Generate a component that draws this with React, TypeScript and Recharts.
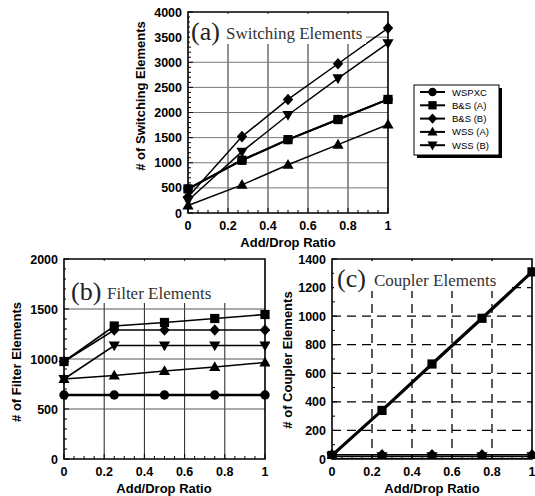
import React from 'react';
import { LineChart, Line, XAxis, YAxis, CartesianGrid, ReferenceArea } from 'recharts';

const SANS = "'Liberation Sans', Arial, Helvetica, sans-serif";
const SERIF = "'Liberation Serif', 'Times New Roman', serif";

// ---- data ----
const ratioSwitch = [0, 0.27, 0.5, 0.75, 1];
const ratio = [0, 0.25, 0.5, 0.75, 1];

const switchWSPXC = [480, 1050, 1460, 1860, 2260];
const switchBSA = [480, 1050, 1460, 1860, 2260];
const switchBSB = [320, 1520, 2260, 2970, 3680];
const switchWSSA = [150, 560, 960, 1360, 1760];
const switchWSSB = [250, 1220, 1950, 2680, 3380];

const filterWSPXC = [640, 640, 640, 640, 640];
const filterBSA = [975, 1330, 1365, 1405, 1445];
const filterBSB = [975, 1290, 1290, 1290, 1290];
const filterWSSA = [800, 835, 880, 920, 965];
const filterWSSB = [800, 1135, 1135, 1135, 1135];

const couplerWSPXC = [4, 4, 4, 4, 4];
const couplerBSA = [25, 340, 665, 985, 1310];
const couplerBSB = [30, 30, 30, 30, 30];
const couplerWSSA = [18, 18, 18, 18, 18];
const couplerWSSB = [20, 20, 20, 20, 20];

const xMajorTicks = [0, 0.2, 0.4, 0.6, 0.8, 1];
const xGridValues = [0.2, 0.4, 0.6, 0.8];
const ySwitchMajor = [0, 500, 1000, 1500, 2000, 2500, 3000, 3500, 4000];
const ySwitchGrid = [500, 1000, 1500, 2000, 2500, 3000, 3500];
const yFilterMajor = [0, 500, 1000, 1500, 2000];
const yFilterGrid = [500, 1000, 1500];
const yCouplerMajor = [0, 200, 400, 600, 800, 1000, 1200, 1400];
const yCouplerGrid = [200, 400, 600, 800, 1000, 1200];

const seriesNames = ['WSPXC', 'B&S (A)', 'B&S (B)', 'WSS (A)', 'WSS (B)'];
const seriesKeys = ['wspxc', 'bsa', 'bsb', 'wssa', 'wssb'];
const seriesShapes = ['circle', 'square', 'diamond', 'triangle', 'triangleDown'];

const steps = (max: number, step: number) =>
  Array.from({ length: Math.round(max / step) + 1 }, (_, i) => Math.round(i * step * 1000) / 1000);

const xMinorTicks = steps(1, 0.05);

function buildRows(xs: number[], cols: number[][]) {
  return xs.map((x, i) => {
    const r: any = { x };
    seriesKeys.forEach((k, j) => (r[k] = cols[j][i]));
    return r;
  });
}

const switchRows = buildRows(ratioSwitch, [switchWSPXC, switchBSA, switchBSB, switchWSSA, switchWSSB]);
const filterRows = buildRows(ratio, [filterWSPXC, filterBSA, filterBSB, filterWSSA, filterWSSB]);
const couplerRows = buildRows(ratio, [couplerWSPXC, couplerBSA, couplerBSB, couplerWSSA, couplerWSSB]);

// ---- marks ----
function Marker({ shape, cx, cy, s = 1 }: { shape: string; cx: number; cy: number; s?: number }) {
  if (cx == null || cy == null) return null;
  switch (shape) {
    case 'circle':
      return <circle cx={cx} cy={cy} r={4.7 * s} fill="#000" />;
    case 'square':
      return <rect x={cx - 4.6 * s} y={cy - 4.6 * s} width={9.2 * s} height={9.2 * s} fill="#000" />;
    case 'diamond':
      return (
        <polygon
          points={`${cx},${cy - 5.8 * s} ${cx + 5.2 * s},${cy} ${cx},${cy + 5.8 * s} ${cx - 5.2 * s},${cy}`}
          fill="#000"
        />
      );
    case 'triangle':
      return (
        <polygon
          points={`${cx},${cy - 5.8 * s} ${cx + 5.6 * s},${cy + 4 * s} ${cx - 5.6 * s},${cy + 4 * s}`}
          fill="#000"
        />
      );
    default:
      return (
        <polygon
          points={`${cx},${cy + 5.8 * s} ${cx + 5.6 * s},${cy - 4 * s} ${cx - 5.6 * s},${cy - 4 * s}`}
          fill="#000"
        />
      );
  }
}

const near = (arr: number[], v: number) => arr.some((m) => Math.abs(m - v) < 1e-6);

const makeXTick = (majors: number[]) => (p: any) => {
  const v = p.payload.value;
  const major = near(majors, v);
  return (
    <g key={`xt-${v}`}>
      <line x1={p.x} x2={p.x} y1={p.y} y2={p.y - (major ? 5 : 3)} stroke="#000" strokeWidth={1} />
      {major && (
        <text x={p.x} y={p.y + 17} textAnchor="middle" fontFamily={SANS} fontWeight="bold" fontSize={12.5} fill="#000">
          {String(v)}
        </text>
      )}
    </g>
  );
};

const makeYTick = (majors: number[]) => (p: any) => {
  const v = p.payload.value;
  const major = near(majors, v);
  return (
    <g key={`yt-${v}`}>
      <line x1={p.x} x2={p.x + (major ? 5 : 3)} y1={p.y} y2={p.y} stroke="#000" strokeWidth={1} />
      {major && (
        <text x={p.x - 6} y={p.y + 4.5} textAnchor="end" fontFamily={SANS} fontWeight="bold" fontSize={12.5} fill="#000">
          {String(v)}
        </text>
      )}
    </g>
  );
};

const makeRTick = (majors: number[]) => (p: any) => {
  const v = p.payload.value;
  const major = near(majors, v);
  return (
    <g key={`rt-${v}`}>
      <line x1={p.x} x2={p.x - (major ? 5 : 3)} y1={p.y} y2={p.y} stroke="#000" strokeWidth={1} />
    </g>
  );
};

type PanelProps = {
  left: number;
  top: number;
  width: number;
  height: number;
  margin: { top: number; right: number; left: number; bottom: number };
  yWidth: number;
  rows: any[];
  yMax: number;
  yMajor: number[];
  yMinorStep: number;
  yGrid: number[];
  dashed?: boolean;
  vColor: string;
  hColor: string;
  widths: number[];
  order: number[];
};

function Panel(props: PanelProps) {
  const { left, top, width, height, margin, yWidth, rows, yMax, yMajor, yMinorStep, yGrid, dashed, vColor, hColor, widths, order } = props;
  const yMinor = steps(yMax, yMinorStep);
  return (
    <div style={{ position: 'absolute', left, top, width, height }}>
      <LineChart width={width} height={height} data={rows} margin={margin}>
        <CartesianGrid
          horizontal={false}
          verticalValues={xGridValues}
          stroke={vColor}
          strokeWidth={dashed ? 1.3 : 1}
          strokeDasharray={dashed ? '9 6' : undefined}
        />
        <CartesianGrid
          vertical={false}
          horizontalValues={yGrid}
          stroke={hColor}
          strokeWidth={dashed ? 1.3 : 1}
          strokeDasharray={dashed ? '9 6' : undefined}
        />
        <XAxis
          type="number"
          dataKey="x"
          domain={[0, 1]}
          ticks={xMinorTicks}
          interval={0}
          axisLine={false}
          tickLine={false}
          tickSize={0}
          tickMargin={0}
          tick={makeXTick(xMajorTicks)}
          height={37}
        />
        <YAxis
          type="number"
          domain={[0, yMax]}
          ticks={yMinor}
          interval={0}
          axisLine={false}
          tickLine={false}
          tickSize={0}
          tickMargin={0}
          tick={makeYTick(yMajor)}
          width={yWidth}
          allowDataOverflow
        />
        <YAxis
          yAxisId="r"
          orientation="right"
          type="number"
          domain={[0, yMax]}
          ticks={yMinor}
          interval={0}
          axisLine={false}
          tickLine={false}
          tickSize={0}
          tickMargin={0}
          tick={makeRTick(yMajor)}
          width={0}
          allowDataOverflow
        />
        {order.map((i) => (
          <Line
            key={seriesKeys[i]}
            type="linear"
            dataKey={seriesKeys[i]}
            name={seriesNames[i]}
            stroke="#000"
            strokeWidth={widths[i]}
            isAnimationActive={false}
            activeDot={false}
            dot={(d: any) => <Marker key={`${seriesKeys[i]}-${d.index}`} shape={seriesShapes[i]} cx={d.cx} cy={d.cy} />}
          />
        ))}
        <ReferenceArea x1={0} x2={1} y1={0} y2={yMax} fill="none" stroke="#000" strokeWidth={1.6} ifOverflow="visible" />
      </LineChart>
    </div>
  );
}

function Overlay() {
  const axisTitle = { fontFamily: SANS, fontWeight: 'bold' as const, fontSize: 13, fill: '#000' };
  const titleBig = { fontFamily: SERIF, fontSize: 26, fill: '#222' };
  const titleSmall = { fontFamily: SERIF, fontSize: 17, fill: '#333' };
  return (
    <svg width={535} height={496} style={{ position: 'absolute', left: 0, top: 0, pointerEvents: 'none' }}>
      {/* panel titles */}
      <rect x={190} y={14} width={176} height={30} fill="#fff" />
      <text x={191} y={40} {...titleBig}>(a)</text>
      <text x={226} y={39} {...titleSmall}>Switching Elements</text>

      <rect x={66} y={261} width={160} height={42} fill="#fff" />
      <text x={71} y={300} {...titleBig}>(b)</text>
      <text x={107} y={299} {...titleSmall}>Filter Elements</text>

      <rect x={334} y={261} width={172} height={30} fill="#fff" />
      <text x={337} y={287} {...titleBig}>(c)</text>
      <text x={374} y={286} {...titleSmall}>Coupler Elements</text>

      {/* axis titles */}
      <text transform="translate(145,96) rotate(-90)" textAnchor="middle" {...axisTitle}># of Switching Elements</text>
      <text x={288} y={247} textAnchor="middle" {...axisTitle}>Add/Drop Ratio</text>

      <text transform="translate(21,362) rotate(-90)" textAnchor="middle" {...axisTitle}># of Filter Elements</text>
      <text x={164} y={493} textAnchor="middle" {...axisTitle}>Add/Drop Ratio</text>

      <text transform="translate(292,360) rotate(-90)" textAnchor="middle" {...axisTitle}># of Coupler Elements</text>
      <text x={432} y={493} textAnchor="middle" {...axisTitle}>Add/Drop Ratio</text>

      {/* legend */}
      <rect x={417} y={88} width={85} height={70} fill="#000" />
      <rect x={414} y={85} width={85} height={70} fill="#fff" stroke="#000" strokeWidth={1} />
      {seriesNames.map((n, i) => {
        const y = 92 + i * 13.3;
        return (
          <g key={n}>
            <line x1={420} x2={445} y1={y} y2={y} stroke="#000" strokeWidth={2} />
            <Marker shape={seriesShapes[i]} cx={432.5} cy={y} s={0.9} />
            <text x={452} y={y + 3.5} fontFamily={SANS} fontSize={9.5} fill="#000">{n}</text>
          </g>
        );
      })}
    </svg>
  );
}

export default function App() {
  return (
    <div style={{ position: 'absolute', left: 0, top: 0, width: 535, height: 496, background: '#fff' }}>
      <Panel
        left={120}
        top={0}
        width={280}
        height={250}
        margin={{ top: 12, right: 12, left: 0, bottom: 0 }}
        yWidth={68}
        rows={switchRows}
        yMax={4000}
        yMajor={ySwitchMajor}
        yMinorStep={100}
        yGrid={ySwitchGrid}
        vColor="#222"
        hColor="#777"
        widths={[2, 2, 1.5, 1.5, 1.5]}
        order={[2, 3, 4, 0, 1]}
      />
      <Panel
        left={0}
        top={250}
        width={270}
        height={246}
        margin={{ top: 9, right: 5, left: 0, bottom: 0 }}
        yWidth={64}
        rows={filterRows}
        yMax={2000}
        yMajor={yFilterMajor}
        yMinorStep={100}
        yGrid={yFilterGrid}
        vColor="#222"
        hColor="#555"
        widths={[2.6, 1.6, 1.6, 1.6, 1.6]}
        order={[2, 4, 3, 1, 0]}
      />
      <Panel
        left={270}
        top={250}
        width={265}
        height={246}
        margin={{ top: 9, right: 3, left: 0, bottom: 0 }}
        yWidth={62}
        rows={couplerRows}
        yMax={1400}
        yMajor={yCouplerMajor}
        yMinorStep={100}
        yGrid={yCouplerGrid}
        dashed
        vColor="#000"
        hColor="#000"
        widths={[1.2, 3.2, 1.2, 1.2, 1.2]}
        order={[0, 3, 4, 2, 1]}
      />
      <Overlay />
    </div>
  );
}
